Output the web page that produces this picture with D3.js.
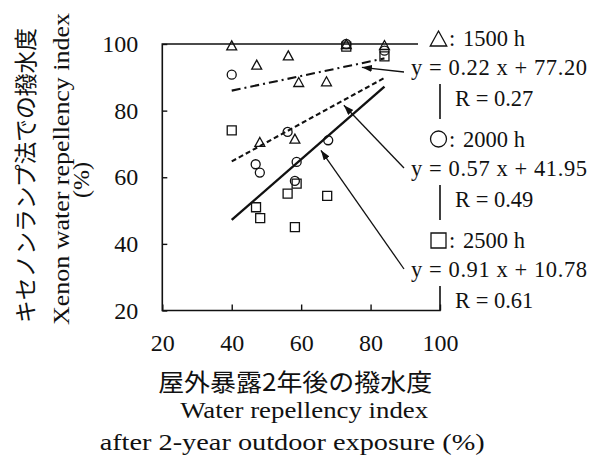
<!DOCTYPE html>
<html>
<head>
<meta charset="utf-8">
<script src="https://cdn.jsdelivr.net/npm/d3@7/dist/d3.min.js"></script>
<style>
  html, body { margin: 0; padding: 0; background: #fff; }
  svg { display: block; }
  text { fill: #111; }
</style>
</head>
<body>
<svg id="chart" width="590" height="458"></svg>
<script>
// Axis ticks
const xTicks = [20, 40, 60, 80, 100];
const yTicks = [20, 40, 60, 80, 100];

// Exposure series (xenon lamp hours)
const seriesNames = ["1500 h", "2000 h", "2500 h"];
const seriesShapes = ["triangle", "circle", "square"];

// Outdoor water repellency (x) vs xenon lamp water repellency (y)
const x1500 = [40, 47.2, 48.1, 56.3, 58.2, 59.3, 67.3, 73, 84];
const y1500 = [99.6, 93.8, 70.6, 96.6, 71.6, 88.6, 88.8, 100, 99.7];
const x2000 = [40, 46.9, 48.1, 56.1, 58.7, 58.2, 67.8, 73, 84];
const y2000 = [90.8, 63.9, 61.4, 73.6, 64.6, 58.9, 71.1, 100, 98.0];
const x2500 = [40, 47.0, 48.2, 56.1, 58.7, 58.2, 67.5, 73, 84];
const y2500 = [74.1, 51.0, 47.7, 55.1, 58.1, 45.0, 54.4, 99.2, 96.3];

// Regression fits
const slopes = [0.22, 0.57, 0.91];
const intercepts = [77.20, 41.95, 10.78];
const rValues = [0.27, 0.49, 0.61];
const lineDash = ["9,4,2,4", "5,3", null];

// Points the annotation arrows point at
const arrowTipX = [77.5, 72.3, 65.7];
const arrowTipY = [93.0, 81.6, 68.1];

const xs = [x1500, x2000, x2500];
const ys = [y1500, y2000, y2500];

const svg = d3.select("#chart");
const serif = "'Liberation Serif', 'DejaVu Serif', serif";
const cjk = "'Noto Sans CJK JP', 'Noto Sans CJK SC', sans-serif";

const x = d3.scaleLinear().domain([20, 100]).range([162.3, 440]);
const y = d3.scaleLinear().domain([20, 100]).range([310.5, 44]);

// Shape path generator
function shapePath(kind, cx, cy, s) {
  if (kind === "triangle") {
    const w = s * 1.1, h = s;
    return `M${cx},${cy - h / 2}L${cx + w / 2},${cy + h / 2}L${cx - w / 2},${cy + h / 2}Z`;
  }
  if (kind === "square") {
    return `M${cx - s / 2},${cy - s / 2}h${s}v${s}h${-s}Z`;
  }
  const r = s / 2;
  return `M${cx - r},${cy}a${r},${r} 0 1,0 ${2 * r},0a${r},${r} 0 1,0 ${-2 * r},0Z`;
}

// Axes
const yAxis = d3.axisLeft(y).tickValues(yTicks).tickSize(-5).tickSizeOuter(0).tickPadding(24);
const xAxis = d3.axisBottom(x).tickValues(xTicks).tickSize(-6).tickSizeOuter(0).tickPadding(23);

const gy = svg.append("g").attr("transform", `translate(${x.range()[0]},0)`).call(yAxis);
const gx = svg.append("g").attr("transform", `translate(0,${y.range()[0]})`).call(xAxis);
[gx, gy].forEach(g => {
  g.select(".domain").remove();
  g.selectAll(".tick line").attr("stroke", "#111").attr("stroke-width", 1.4);
  g.selectAll(".tick text").attr("font-family", serif).attr("font-size", 24).attr("fill", "#111");
});

// Plot frame
const [x0, x1] = x.range();
const [yb, yt] = y.range();
svg.append("path")
  .attr("d", `M${x0},${yt}V${yb}H${x1}V${yt}Z`)
  .attr("fill", "none").attr("stroke", "#111").attr("stroke-width", 1.6);

// Regression lines
slopes.forEach((m, i) => {
  const ext = d3.extent(xs[i]);
  svg.append("line")
    .attr("x1", x(ext[0])).attr("y1", y(m * ext[0] + intercepts[i]))
    .attr("x2", x(ext[1])).attr("y2", y(m * ext[1] + intercepts[i]))
    .attr("stroke", "#111").attr("stroke-width", i === 2 ? 2.4 : 2.1)
    .attr("stroke-dasharray", lineDash[i]);
});

// Markers
xs.forEach((xv, i) => {
  svg.append("g").selectAll("path")
    .data(xv.map((v, j) => [v, ys[i][j]]))
    .join("path")
    .attr("d", d => shapePath(seriesShapes[i], x(d[0]), y(d[1]), 9))
    .attr("fill", "none").attr("stroke", "#111").attr("stroke-width", 1.3);
});

// Arrowhead
svg.append("defs").append("marker")
  .attr("id", "arrow").attr("markerUnits", "userSpaceOnUse")
  .attr("markerWidth", 11).attr("markerHeight", 8)
  .attr("refX", 10).attr("refY", 3.5).attr("orient", "auto")
  .append("path").attr("d", "M0,0L10,3.5L0,7Z").attr("fill", "#111");

// Legend with equations
const legendX = x1 - 22;
slopes.forEach((m, i) => {
  const base = 46 + i * 101;
  const eqBase = base + 29;
  const rBase = base + 60;
  // white backing over the frame
  svg.append("rect").attr("x", legendX).attr("y", base - 28)
    .attr("width", 590 - legendX).attr("height", 34).attr("fill", "#fff");
  svg.append("rect").attr("x", legendX - 11).attr("y", base + 6)
    .attr("width", 600 - legendX).attr("height", eqBase + 9 - (base + 6)).attr("fill", "#fff");

  const sz = seriesShapes[i] === "circle" ? 16 : 15;
  svg.append("path")
    .attr("d", shapePath(seriesShapes[i], legendX + 20.5, base - sz / 2, sz))
    .attr("fill", "none").attr("stroke", "#111").attr("stroke-width", 1.3);
  const lt = svg.append("text").attr("x", legendX + 31).attr("y", base)
    .attr("font-family", serif).attr("font-size", 22.5).text(":");
  lt.append("tspan").attr("x", legendX + 45).text(seriesNames[i]);

  svg.append("text").attr("x", legendX - 7).attr("y", eqBase)
    .attr("font-family", serif).attr("font-size", 22.5)
    .attr("textLength", 176).attr("lengthAdjust", "spacing")
    .text(`y = ${m.toFixed(2)} x + ${intercepts[i].toFixed(2)}`);
  svg.append("text").attr("x", legendX + 37).attr("y", rBase)
    .attr("font-family", serif).attr("font-size", 22.5)
    .text(`R = ${rValues[i].toFixed(2)}`);

  svg.append("line")
    .attr("x1", legendX - 14).attr("y1", eqBase - (i === 0 ? 3 : 8))
    .attr("x2", x(arrowTipX[i])).attr("y2", y(arrowTipY[i]))
    .attr("stroke", "#111").attr("stroke-width", 1.3)
    .attr("marker-end", "url(#arrow)");
});

// X axis title
const cx = (x0 + x1) / 2;
svg.append("text").attr("x", cx - 6).attr("y", 391)
  .attr("text-anchor", "middle").attr("font-family", cjk).attr("font-size", 24)
  .attr("textLength", 274).attr("lengthAdjust", "spacingAndGlyphs")
  .text("屋外暴露2年後の撥水度");
svg.append("text").attr("x", cx + 3).attr("y", 418)
  .attr("text-anchor", "middle").attr("font-family", serif).attr("font-size", 24)
  .attr("textLength", 248).attr("lengthAdjust", "spacingAndGlyphs")
  .text("Water repellency index");
svg.append("text").attr("x", cx - 9).attr("y", 450)
  .attr("text-anchor", "middle").attr("font-family", serif).attr("font-size", 24)
  .attr("textLength", 385).attr("lengthAdjust", "spacingAndGlyphs")
  .text("after 2-year outdoor exposure (%)");

// Y axis title
svg.append("text").attr("transform", "translate(34,175.5) rotate(-90)")
  .attr("text-anchor", "middle").attr("font-family", cjk).attr("font-size", 23)
  .attr("textLength", 295).attr("lengthAdjust", "spacingAndGlyphs")
  .text("キセノンランプ法での撥水度");
svg.append("text").attr("transform", "translate(69,169) rotate(-90)")
  .attr("text-anchor", "middle").attr("font-family", serif).attr("font-size", 24)
  .attr("textLength", 312).attr("lengthAdjust", "spacingAndGlyphs")
  .text("Xenon water repellency index");
svg.append("text").attr("transform", "translate(89,180) rotate(-90)")
  .attr("text-anchor", "middle").attr("font-family", serif).attr("font-size", 24)
  .text("(%)");
</script>
</body>
</html>
